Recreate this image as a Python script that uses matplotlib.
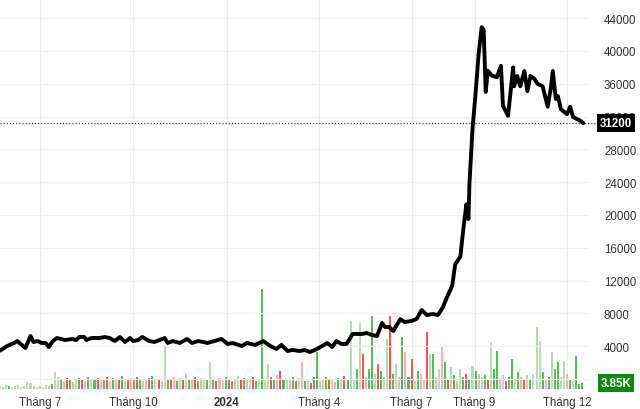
import matplotlib
matplotlib.use('Agg')
import matplotlib.pyplot as plt
import matplotlib.transforms as mtransforms
import pandas as pd

plt.rcParams['font.family'] = ['Liberation Sans', 'DejaVu Sans']

# closing price
price_dates = [
    '2023-05-23', '2023-05-30', '2023-06-06', '2023-06-09', '2023-06-17', '2023-06-22',
    '2023-06-25', '2023-06-29', '2023-07-03', '2023-07-07', '2023-07-10', '2023-07-14',
    '2023-07-18', '2023-07-26', '2023-08-02', '2023-08-06', '2023-08-09', '2023-08-14',
    '2023-08-16', '2023-08-21', '2023-08-29', '2023-09-03', '2023-09-08', '2023-09-13',
    '2023-09-18', '2023-09-23', '2023-09-28', '2023-10-01', '2023-10-06', '2023-10-10',
    '2023-10-17', '2023-10-22', '2023-10-27', '2023-11-01', '2023-11-04', '2023-11-09',
    '2023-11-16', '2023-11-23', '2023-11-28', '2023-12-04', '2023-12-09', '2023-12-13',
    '2023-12-20', '2023-12-27', '2024-01-02', '2024-01-07', '2024-01-16', '2024-01-21',
    '2024-01-29', '2024-02-06', '2024-02-13', '2024-02-19', '2024-02-24', '2024-03-01',
    '2024-03-06', '2024-03-13', '2024-03-18', '2024-03-23', '2024-03-30', '2024-04-04',
    '2024-04-09', '2024-04-14', '2024-04-18', '2024-04-23', '2024-04-28', '2024-05-01',
    '2024-05-04', '2024-05-13', '2024-05-18', '2024-05-23', '2024-05-28', '2024-06-02',
    '2024-06-05', '2024-06-09', '2024-06-13', '2024-06-20', '2024-06-24', '2024-07-01',
    '2024-07-06', '2024-07-11', '2024-07-16', '2024-07-22', '2024-07-27', '2024-08-01',
    '2024-08-05', '2024-08-10', '2024-08-13', '2024-08-18', '2024-08-21', '2024-08-24',
    '2024-08-26', '2024-08-27', '2024-08-30', '2024-09-02', '2024-09-05', '2024-09-08',
    '2024-09-10', '2024-09-12', '2024-09-14', '2024-09-18', '2024-09-23', '2024-09-27',
    '2024-09-29', '2024-10-04', '2024-10-09', '2024-10-10', '2024-10-13', '2024-10-16',
    '2024-10-20', '2024-10-23', '2024-10-26', '2024-10-30', '2024-11-02', '2024-11-07',
    '2024-11-12', '2024-11-15', '2024-11-17', '2024-11-20', '2024-11-22', '2024-11-25',
    '2024-12-01', '2024-12-04', '2024-12-07', '2024-12-14', '2024-12-17',
]
price_values = [
    3450, 4020, 4390, 4630, 3780, 5240,
    4510, 4630, 4390, 4390, 3900, 4630,
    5000, 4750, 4880, 4750, 5120, 5120,
    4750, 5000, 5000, 5120, 5000, 4630,
    5120, 4510, 5000, 4630, 4750, 5120,
    4630, 4510, 4750, 5000, 4390, 4630,
    4390, 4880, 4390, 4630, 4510, 4390,
    4630, 4880, 4270, 4390, 4020, 4390,
    4150, 4630, 4020, 3660, 4150, 3410,
    3540, 3410, 3540, 3290, 3660, 4020,
    4390, 3900, 4630, 4270, 4270, 4880,
    5490, 5490, 5610, 5370, 5240, 6830,
    6340, 6340, 5850, 7300, 6950, 7070,
    7320, 8410, 7800, 7930, 7800, 8780,
    10000, 11340, 14000, 14900, 18300, 21300,
    19500, 23800, 30500, 34800, 39600, 42900,
    42600, 35000, 37600, 37000, 36800, 38200,
    33300, 32100, 38000, 35700, 36950, 35700,
    37560, 35100, 36950, 36600, 36000, 35700,
    33200, 35400, 37560, 34150, 34500, 32900,
    32300, 33200, 31950, 31500, 31200,
]

# volume (thousand shares), one bar every 3 days from vol_start
vol_start = '2023-05-23'
vol_k = [
    1.9, 1.3, 2.6, 1.9, 1.3, 1.9, 2.6, 1.3, 1.9, 4.5,
    3.8, 1.9, 1.3, 1.9, 1.3, 2.6, 1.9, 3.2, 10.9, 7.7,
    5.8, 5.1, 7.0, 6.4, 4.5, 5.8, 7.0, 6.4, 5.1, 7.7,
    5.8, 6.4, 7.0, 5.8, 6.4, 7.7, 5.1, 7.0, 5.8, 6.4,
    8.3, 5.1, 5.8, 7.0, 6.4, 7.7, 5.8, 5.1, 6.4, 7.0,
    8.3, 5.8, 6.4, 5.1, 26.9, 6.4, 5.8, 7.7, 5.1, 7.0,
    6.4, 10.2, 5.8, 6.4, 7.7, 5.1, 7.0, 5.8, 6.4, 17.3,
    5.8, 5.1, 7.0, 6.4, 7.7, 5.8, 5.1, 6.4, 8.3, 5.8,
    7.0, 6.4, 5.8, 7.7, 5.1, 6.4, 64.0, 5.8, 16.0, 7.7,
    6.4, 9.0, 11.5, 5.8, 6.4, 5.8, 7.7, 5.1, 7.0, 17.3,
    5.1, 6.4, 3.8, 7.7, 23.7, 5.1, 6.4, 7.7, 5.8, 6.4,
    4.5, 7.0, 5.8, 8.3, 6.4, 43.5, 6.4, 12.8, 42.2, 22.4,
    7.7, 12.8, 46.7, 9.6, 16.0, 11.5, 7.7, 32.0, 46.7, 9.6,
    16.0, 7.7, 33.3, 23.7, 7.7, 19.2, 5.1, 11.5, 9.6, 6.4,
    36.5, 22.4, 22.4, 7.7, 12.8, 26.9, 17.3, 6.4, 14.1, 9.0,
    5.1, 12.8, 7.7, 9.6, 6.4, 14.7, 11.5, 9.6, 7.7, 9.0,
    6.4, 30.1, 12.8, 24.3, 6.4, 9.0, 5.1, 7.7, 19.2, 6.4,
    10.9, 7.7, 5.8, 9.0, 6.4, 9.6, 39.7, 30.7, 10.9, 6.4,
    7.7, 23.7, 12.8, 17.3, 7.7, 17.9, 9.6, 6.4, 5.1, 21.1,
    3.2, 3.85,
]
# g = up, l = up (light), r = down, p = down (light)
vol_codes = (
    'lplglpllpl' 'lplpllpgll' 'gprgplgrpg' 'lgrpgrlgpr' 'glrpgrglpr'
    'glrplgrpgl' 'rlgprgplgl' 'grplgrgplr' 'gplrglgllr' 'gprglpgrlp'
    'glrggplgrl' 'pglrgllglr' 'pgglrgllrg' 'lpgpgrlgpl' 'rlgplpgrlg'
    'plgrglgplg' 'rlggplrggl' 'gprlglllgp' 'glggllpglg' 'gg'
)

last_price = 31200
last_vol_label = '3.85K'
price_ticks = [4000, 8000, 12000, 16000, 20000, 24000, 28000, 32000, 36000, 40000, 44000]
tick_dates = ['2023-07-01', '2023-10-01', '2024-01-01', '2024-04-01',
              '2024-07-01', '2024-09-01', '2024-12-01']
tick_labels = ['Tháng 7', 'Tháng 10', '2024', 'Tháng 4', 'Tháng 7', 'Tháng 9', 'Tháng 12']

bar_colors = {'g': '#5cb85c', 'l': '#b7dcb0', 'r': '#ef5656', 'p': '#f6b0b0'}

fig = plt.figure(figsize=(6.4, 4.1), dpi=100)
rect = [0, 20 / 410, 588 / 640, 390 / 410]
ax_v = fig.add_axes(rect)
ax = fig.add_axes(rect, sharex=ax_v)
ax.patch.set_visible(False)

vol_dates = pd.date_range(vol_start, periods=len(vol_k), freq='3D')
ax_v.bar(vol_dates, vol_k, width=2.0,
         color=[bar_colors[c] for c in vol_codes], linewidth=0)
ax_v.set_ylim(0, 249.6)
ax_v.set_yticks([])
ax_v.tick_params(axis='x', labelbottom=False, length=0)
ax_v.grid(axis='x', color='#ececec', lw=0.8)
ax_v.set_axisbelow(True)

ax.plot(pd.to_datetime(price_dates), price_values, color='black', lw=2.8,
        solid_joinstyle='round', solid_capstyle='round')
ax.set_ylim(-1220, 46340)
ax.set_xlim(pd.Timestamp('2023-05-23'), pd.Timestamp('2024-12-21 16:00'))
ax.yaxis.tick_right()
ax.set_yticks([0] + price_ticks)
ax.set_yticklabels([''] + [str(t) for t in price_ticks])
ax.grid(axis='y', color='#efefef', lw=0.8)
ax.tick_params(axis='y', length=0, pad=11.5, labelsize=8.3, labelcolor='#333333')
ax.set_xticks(pd.to_datetime(tick_dates))
ax.set_xticklabels(tick_labels)
ax.tick_params(axis='x', length=0, pad=5, labelsize=8.3, labelcolor='#333333')
for lbl in ax.get_xticklabels():
    if lbl.get_text() == '2024':
        lbl.set_fontweight('bold')

for a in (ax, ax_v):
    for s in a.spines.values():
        s.set_visible(False)

# last price marker
ax.axhline(last_price, xmin=0, xmax=598 / 588, color='#444444', lw=0.9,
           ls=(0, (1, 1.5)), clip_on=False)
trans = mtransforms.blended_transform_factory(ax.transAxes, ax.transData)
ax.text(616 / 588, last_price, str(last_price), transform=trans, ha='center',
        va='center', color='white', fontsize=8.3, fontweight='bold',
        bbox=dict(boxstyle='square,pad=0.25', fc='black', ec='none'),
        clip_on=False, zorder=10)
trans_v = mtransforms.blended_transform_factory(ax_v.transAxes, ax_v.transData)
ax_v.text(616 / 588, vol_k[-1], last_vol_label, transform=trans_v, ha='center',
          va='center', color='white', fontsize=8.3, fontweight='bold',
          bbox=dict(boxstyle='square,pad=0.25', fc='#0a8a0a', ec='none'),
          clip_on=False, zorder=5)

fig.savefig('out.png', dpi=100)
